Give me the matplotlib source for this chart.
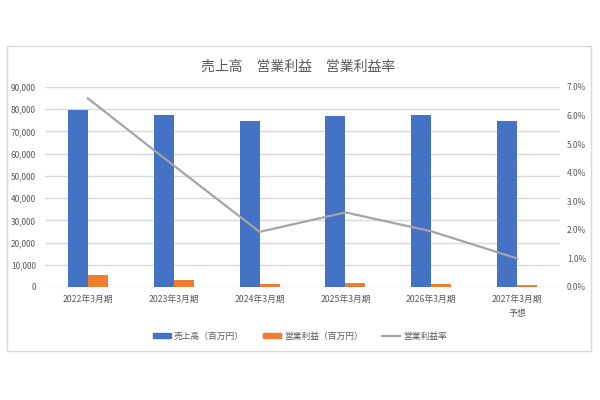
import matplotlib
matplotlib.use("Agg")
import matplotlib.pyplot as plt
from matplotlib.patches import Rectangle
from matplotlib.lines import Line2D
from matplotlib.ticker import FuncFormatter, MultipleLocator
import numpy as np

plt.rcParams['font.family'] = ['Noto Sans CJK JP', 'DejaVu Sans']

categories = ["2022年3月期", "2023年3月期", "2024年3月期", "2025年3月期", "2026年3月期", "2027年3月期\n予想"]
sales = [79500, 77200, 74900, 76800, 77200, 74500]
op_profit = [5300, 3300, 1450, 2000, 1500, 750]
op_margin = [6.6, 4.25, 1.93, 2.61, 1.95, 1.0]

title = "売上高　営業利益　営業利益率"
legend_labels = ["売上高（百万円）", "営業利益（百万円）", "営業利益率"]

blue = "#4472c4"
orange = "#ed7d31"
gray = "#a5a5a5"
txt = "#595959"
grid = "#d9d9d9"

fig = plt.figure(figsize=(6, 4), dpi=100)
fig.patches.append(Rectangle((7/600, 1-351/400), 584/600, 305/400, transform=fig.transFigure,
                             fill=False, edgecolor=grid, linewidth=1))

ax = fig.add_axes([45/600, 1-287/400, 515/600, 200/400])
x = np.arange(len(categories))
w = 0.233
ax.bar(x - w/2, sales, width=w, color=blue, label=legend_labels[0], zorder=2)
ax.bar(x + w/2, op_profit, width=w, color=orange, label=legend_labels[1], zorder=2)
ax.set_xlim(-0.5, len(categories) - 0.5)
ax.set_ylim(0, 90000)
ax.yaxis.set_major_locator(MultipleLocator(10000))
ax.yaxis.set_major_formatter(FuncFormatter(lambda v, p: f"{int(v):,}"))
ax.grid(axis='y', color=grid, linewidth=1, zorder=0)
ax.set_axisbelow(True)
for s in ax.spines.values():
    s.set_visible(False)
ax.set_xticks(x)
ax.set_xticklabels(categories, fontsize=6.3, color=txt, linespacing=1.7, va='top')
ax.tick_params(axis='both', length=0, labelcolor=txt)
ax.tick_params(axis='x', pad=6)
ax.tick_params(axis='y', pad=6.5, labelsize=6)

ax2 = ax.twinx()
ax2.plot(x, op_margin, color=gray, linewidth=1.6, label=legend_labels[2], zorder=3)
ax2.set_ylim(0, 7)
ax2.yaxis.set_major_locator(MultipleLocator(1))
ax2.yaxis.set_major_formatter(FuncFormatter(lambda v, p: f"{v:.1f}%"))
ax2.tick_params(axis='y', length=0, labelcolor=txt, pad=5, labelsize=6)
for s in ax2.spines.values():
    s.set_visible(False)

fig.text(0.497, 1-67/400, title, ha='center', va='center', fontsize=10, color=txt)

handles = [Rectangle((0, 0), 1, 1, color=blue), Rectangle((0, 0), 1, 1, color=orange),
           Line2D([0], [0], color=gray, linewidth=1.6)]
fig.legend(handles, legend_labels, loc='center', bbox_to_anchor=(0.5, 1-336/400), ncol=3,
           frameon=False, fontsize=6.3, labelcolor=txt, handlelength=2.0, handleheight=0.55,
           columnspacing=2.2, handletextpad=0.4)

fig.savefig("out.png", dpi=100)
